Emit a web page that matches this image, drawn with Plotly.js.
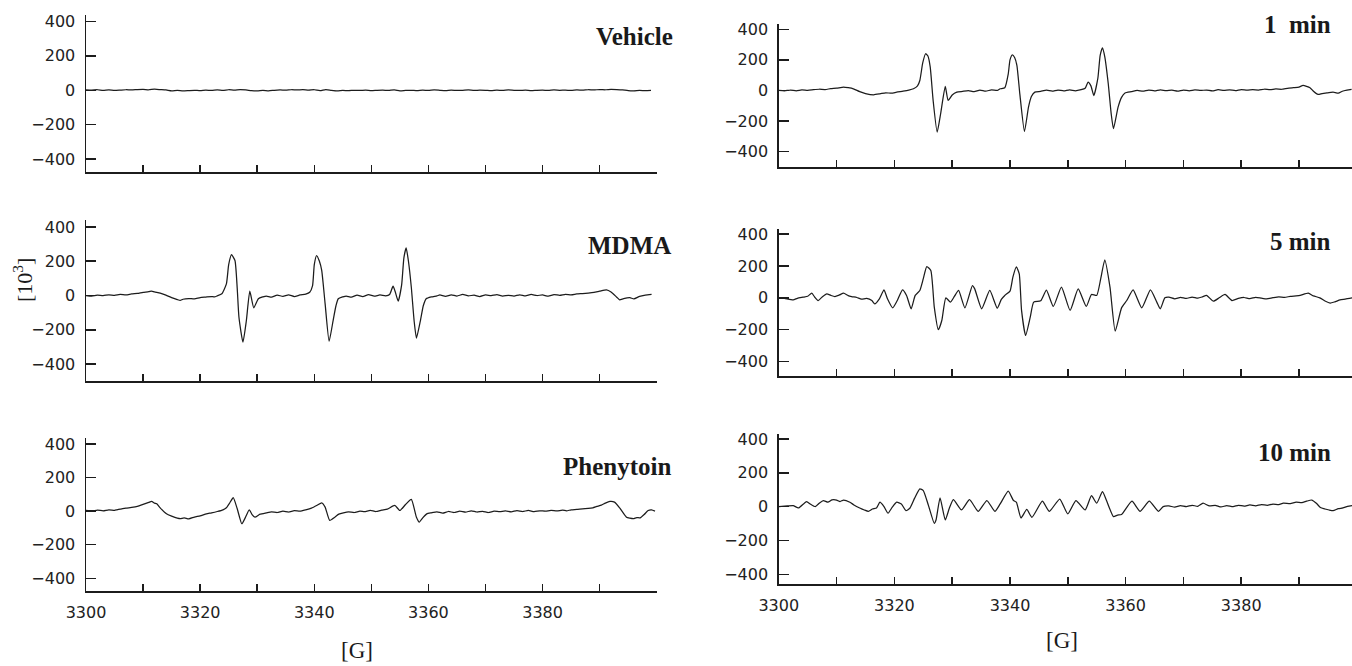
<!DOCTYPE html>
<html>
<head>
<meta charset="utf-8">
<script src="https://cdn.plot.ly/plotly-3.0.1.min.js"></script>
<style>html,body{margin:0;padding:0;background:#fff;}#chart{width:1352px;height:666px;}</style>
</head>
<body>
<div id="chart"></div>
<script>
// ---- Data: [field (G), signal (10^3)] ----
const vehicleX = [3300,3301,3302,3303,3304,3305,3306,3307,3308,3309,3310,3311,3312,3313,3314,3315,3316,3317,3318,3319,3320,3321,3322,3323,3324,3325,3326,3327,3328,3329,3330,3331,3332,3333,3334,3335,3336,3337,3338,3339,3340,3341,3342,3343,3344,3345,3346,3347,3348,3349,3350,3351,3352,3353,3354,3355,3356,3357,3358,3359,3360,3361,3362,3363,3364,3365,3366,3367,3368,3369,3370,3371,3372,3373,3374,3375,3376,3377,3378,3379,3380,3381,3382,3383,3384,3385,3386,3387,3388,3389,3390,3391,3392,3393,3394,3395,3396,3397,3398,3399];
const vehicleY = [2,1,3,0,2,-1,1,3,2,4,5,3,6,4,2,-3,-1,-4,-2,0,-2,1,-1,2,0,3,1,4,2,-2,-4,-1,-3,0,2,1,3,2,4,1,3,-2,4,0,-3,-1,-2,0,-1,1,-2,0,1,-1,2,-3,-1,0,-2,1,-1,2,0,-2,1,-1,0,2,-1,1,0,-2,1,-1,2,0,-1,1,-2,0,1,-1,2,0,1,-1,2,1,3,2,4,3,5,4,2,-2,-3,-1,-2,-1];

const mdmaPts = [[3300,0],[3301,-3],[3302,2],[3303,-1],[3304,4],[3305,1],[3306,6],[3307,3],[3308,9],[3309,12],[3310,18],[3311,22],[3311.5,26],[3312,21],[3313,14],[3314,2],[3315,-12],[3316,-24],[3316.5,-29],[3317,-22],[3318,-18],[3319,-20],[3320,-12],[3321,-9],[3322,-6],[3322.5,-8],[3323,-2],[3323.8,10],[3324.6,68],[3325.0,180],[3325.5,238],[3326.1,204],[3326.5,40],[3326.8,-127],[3327.5,-272],[3328.1,-146],[3328.7,25],[3329.4,-72],[3330.2,-19],[3331,-8],[3331.6,-3],[3332.5,-10],[3333.5,2],[3334.5,-5],[3335.5,4],[3336.5,-6],[3337.5,3],[3338.5,8],[3339.2,19],[3339.7,58],[3340.0,180],[3340.4,233],[3340.9,200],[3341.3,146],[3341.9,-49],[3342.6,-267],[3343.3,-146],[3343.8,-60],[3344.2,-19],[3345,-8],[3345.6,-3],[3346.5,-10],[3347.5,2],[3348.5,-6],[3349.5,5],[3350.5,-4],[3351.5,3],[3352.5,-2],[3353.2,6],[3353.8,54],[3354.2,20],[3354.7,-33],[3355.3,60],[3355.7,220],[3356.1,278],[3356.5,200],[3357.0,48],[3357.5,-150],[3357.9,-249],[3358.6,-146],[3359.1,-60],[3359.6,-19],[3360.5,-8],[3361.5,-2],[3362,3],[3363,-5],[3364,4],[3365,-3],[3366,6],[3367,-2],[3368,2],[3369,-6],[3370,3],[3371,-1],[3372,5],[3373,-4],[3374,1],[3375,-3],[3376,4],[3377,-2],[3378,6],[3379,0],[3380,3],[3381,-4],[3382,5],[3383,1],[3384,7],[3385,4],[3386,9],[3387,11],[3388,14],[3389,18],[3390,25],[3391.2,33],[3392,20],[3393,-10],[3393.5,-25],[3394.2,-18],[3395.3,-13],[3396,-20],[3397,-5],[3398,2],[3399.1,6]];

const phenytoinPts = [[3300,4],[3301,0],[3302,6],[3303,2],[3304,8],[3305,5],[3305.4,8],[3306,12],[3307,18],[3308,22],[3309,28],[3309.5,34],[3310,40],[3311,52],[3311.5,58],[3312,48],[3312.4,44],[3313,20],[3314.1,-16],[3315,-30],[3316,-42],[3316.5,-45],[3317.2,-40],[3318,-46],[3319,-35],[3320,-28],[3321.1,-16],[3322,-10],[3323,-2],[3324,8],[3324.6,20],[3325.2,50],[3325.8,80],[3326.5,14],[3327.3,-75],[3327.9,-40],[3328.6,8],[3329.1,-20],[3329.6,-36],[3330.5,-18],[3331.6,-10],[3332.5,-4],[3333.5,-8],[3334.5,0],[3335.5,-5],[3336.5,3],[3337.5,0],[3338.5,8],[3339.5,18],[3340.5,35],[3341.3,50],[3341.9,24],[3342.7,-55],[3343.6,-36],[3344.3,-18],[3345.1,-10],[3346,-4],[3347,-8],[3348,0],[3348.8,-3],[3349.8,4],[3350.8,-2],[3351.8,6],[3352.8,12],[3354.1,34],[3355,4],[3356,40],[3357,70],[3357.9,-36],[3358.4,-65],[3359,-40],[3359.7,-16],[3360.5,-10],[3361.5,-4],[3362.5,-12],[3363.5,-2],[3364.5,-8],[3365.5,0],[3366.5,-6],[3367.5,2],[3368.5,-5],[3369.5,-1],[3370.5,-8],[3371.5,0],[3372.5,-3],[3373.5,2],[3374.5,-4],[3375.5,3],[3376.5,-2],[3377.5,4],[3378.5,-3],[3379.5,2],[3380.5,0],[3381.5,5],[3382.5,1],[3383.5,6],[3384.2,2],[3385,8],[3386,10],[3387,14],[3388,16],[3388.8,20],[3389.5,28],[3390.3,36],[3391,48],[3391.8,58],[3392.6,54],[3393.5,20],[3394.7,-36],[3395.3,-42],[3395.9,-45],[3396.5,-38],[3397.1,-40],[3397.8,-20],[3398.5,4],[3399.1,8],[3399.7,0]];

const min1Pts = [[3300,0],[3301,-3],[3302,3],[3303,-2],[3304,4],[3305,1],[3306,5],[3307,8],[3308,6],[3309,12],[3310,15],[3311.2,22],[3312,18],[3312.9,11],[3314,-8],[3315,-20],[3316.4,-28],[3317.5,-22],[3318.5,-15],[3319.5,-18],[3320.4,-11],[3321.5,-5],[3322.5,2],[3323.3,11],[3324.0,30],[3324.4,65],[3324.9,180],[3325.4,240],[3325.8,225],[3326.2,152],[3326.7,-65],[3327.4,-272],[3328.0,-152],[3328.8,26],[3329.3,-65],[3330.0,-30],[3330.8,-11],[3331.8,-6],[3332.8,-1],[3333.8,-8],[3334.8,2],[3335.8,-5],[3336.8,4],[3337.8,0],[3338.3,11],[3339.1,18],[3339.7,109],[3340.0,200],[3340.4,233],[3340.8,215],[3341.2,163],[3341.7,-22],[3342.5,-268],[3343.2,-109],[3343.7,-40],[3344.3,-11],[3345.3,-6],[3346.3,2],[3347.3,-4],[3348.3,3],[3349.3,-3],[3350.3,4],[3351.3,-2],[3352.3,5],[3353.0,14],[3353.5,54],[3354.0,30],[3354.5,-33],[3355.2,80],[3355.6,230],[3356.0,279],[3356.4,220],[3357.0,44],[3357.5,-150],[3357.9,-250],[3358.7,-109],[3359.3,-45],[3359.9,-17],[3361,-8],[3362,0],[3363,-5],[3364,3],[3365,-3],[3366,4],[3367,-1],[3368,2],[3369,-4],[3370,3],[3371,-2],[3372,4],[3373,0],[3374,3],[3375,-3],[3376,5],[3377,1],[3378,4],[3379,-1],[3380,6],[3381,2],[3382,5],[3383,3],[3384,8],[3385,5],[3386,10],[3387,8],[3388,14],[3389,18],[3390,22],[3390.7,33],[3391.9,18],[3392.5,-5],[3393.3,-26],[3394,-20],[3395,-15],[3395.9,-11],[3396.8,-18],[3397.5,-5],[3398.3,2],[3399.1,7]];

const min5Pts = [[3300,0],[3301,-4],[3302.5,-13],[3303.2,-3],[3304.2,4],[3305,10],[3305.7,29],[3306.2,5],[3306.8,-17],[3307.5,5],[3308.3,25],[3309,15],[3309.7,8],[3310.5,18],[3311.2,29],[3312,14],[3312.6,8],[3313.5,2],[3314.3,-8],[3315.2,-4],[3316.1,-17],[3316.6,-38],[3317.4,-6],[3318.2,50],[3318.8,-6],[3319.7,-63],[3320.5,-17],[3321.4,50],[3322.1,15],[3322.9,-69],[3323.6,15],[3324.4,46],[3325.0,120],[3325.6,196],[3326.3,171],[3326.9,-58],[3327.6,-200],[3328.2,-142],[3328.9,0],[3329.7,-27],[3330.4,10],[3331.1,46],[3332.2,-63],[3333.5,77],[3333.9,56],[3335.1,-69],[3336.5,46],[3337.8,-65],[3338.5,-10],[3339.1,15],[3340.0,42],[3340.5,130],[3341.1,194],[3341.6,150],[3342.0,-79],[3342.7,-236],[3343.5,-121],[3344.1,-27],[3345.3,-19],[3346.3,48],[3347.5,-54],[3348.9,67],[3350.4,-79],[3351.8,56],[3353.2,-54],[3354.1,21],[3355.0,15],[3355.7,120],[3356.4,238],[3357.3,67],[3358.2,-209],[3359.3,-63],[3360.2,-17],[3361.3,50],[3362.8,-63],[3364.3,50],[3365.4,-27],[3366.0,-69],[3366.8,0],[3367.5,4],[3368.5,-6],[3369.5,3],[3370.5,-4],[3371.5,5],[3372.5,-2],[3373.3,6],[3374.0,15],[3375.2,-21],[3376.2,0],[3377.2,21],[3378.4,-17],[3379.5,-4],[3380.5,2],[3381.5,-5],[3382.5,3],[3383.5,-2],[3384.4,-6],[3385.5,1],[3386.5,6],[3387.5,3],[3388.5,9],[3389.5,12],[3390.2,15],[3391.6,29],[3392.5,12],[3393.6,0],[3394.5,-20],[3395.4,-33],[3396.2,-25],[3397.1,-13],[3398,-8],[3399.2,0]];

const min10Pts = [[3300,0],[3301.5,4],[3302.5,6],[3303.4,-8],[3304.8,30],[3305.5,14],[3306.3,0],[3307,20],[3307.7,36],[3308.5,26],[3309.2,40],[3310,39],[3310.6,30],[3311.2,39],[3312.3,26],[3313,10],[3314,-8],[3314.8,-20],[3315.5,-28],[3316.2,-14],[3316.9,-8],[3317.5,26],[3318.2,0],[3318.9,-39],[3319.6,-5],[3320.4,26],[3321.2,16],[3322.0,-24],[3322.7,-8],[3323.5,50],[3324.4,105],[3325.0,95],[3325.9,6],[3326.9,-99],[3327.2,-79],[3327.9,51],[3328.8,-79],[3329.5,-10],[3330.2,41],[3331.6,-20],[3333.0,41],[3334.5,-28],[3336.0,36],[3337.4,-28],[3338.3,16],[3339.7,91],[3340.6,36],[3341.1,26],[3341.9,-67],[3342.9,-17],[3343.8,-63],[3345.6,32],[3346.8,-28],[3348.6,45],[3350.0,-43],[3351.4,36],[3353.0,-20],[3354.1,65],[3355.0,20],[3356.0,89],[3356.7,36],[3357.9,-59],[3358.6,-50],[3359.3,-47],[3361.1,32],[3362.5,-28],[3364.1,32],[3365.7,-28],[3366.5,0],[3367.5,4],[3368.5,-3],[3369.5,6],[3370.5,0],[3371.5,8],[3372.5,2],[3373.4,20],[3374.5,4],[3375.5,8],[3376.5,-2],[3377.5,6],[3378.6,0],[3379.5,8],[3380.5,3],[3381.5,10],[3382.5,5],[3383.5,12],[3384.5,8],[3385.5,15],[3386.5,12],[3387.3,20],[3388.5,18],[3389.5,26],[3390.5,24],[3391.3,32],[3392.2,39],[3393,20],[3393.7,-5],[3394.5,-14],[3395.2,-20],[3395.9,-24],[3396.8,-12],[3397.6,-8],[3398.4,2],[3399.2,6]];

const panelLabels = ['Vehicle', 'MDMA', 'Phenytoin', '1\u00a0\u00a0min', '5 min', '10 min'];
const xTickVals = [3300,3320,3340,3360,3380];
const xTickText = ['3300','3320','3340','3360','3380'];
const xMinorTickVals = [3310,3330,3350,3370,3390,3400];
const yTickVals = [-400,-200,0,200,400];
const yTickText = ['\u2212400','\u2212200','0','200','400'];
const yAxisLabel = '[10<sup>3</sup>]';
const xAxisLabel = '[G]';

// ---- Build ----
const series = [
  {x: vehicleX, y: vehicleY},
  {x: mdmaPts.map(p => p[0]), y: mdmaPts.map(p => p[1])},
  {x: phenytoinPts.map(p => p[0]), y: phenytoinPts.map(p => p[1])},
  {x: min1Pts.map(p => p[0]), y: min1Pts.map(p => p[1])},
  {x: min5Pts.map(p => p[0]), y: min5Pts.map(p => p[1])},
  {x: min10Pts.map(p => p[0]), y: min10Pts.map(p => p[1])}
];

const W = 1352, H = 666;
// pixel geometry of each panel: [xLeft, xRight, yTop, yBottom, xMax, yMin, yMax]
const geom = [
  [86, 657, 14.6, 172.3, 3400.05, -477, 440],
  [86, 657, 220.1, 381, 3400.05, -499, 440],
  [86, 657, 438, 590.7, 3400.05, -474, 436],
  [778.8, 1352, 23.9, 167.3, 3399.17, -502, 435],
  [778.8, 1352, 229.2, 375.7, 3399.17, -488, 430],
  [778.8, 1352, 433.9, 583.9, 3399.17, -457, 430]
];

const traces = [];
const layout = {
  width: W, height: H,
  margin: {l: 0, r: 0, t: 0, b: 0, pad: 0},
  paper_bgcolor: '#fff', plot_bgcolor: 'rgba(0,0,0,0)',
  showlegend: false,
  font: {family: 'DejaVu Sans, sans-serif', color: '#222'},
  annotations: []
};

series.forEach((s, i) => {
  const n = i + 1;
  const g = geom[i];
  traces.push({
    x: s.x, y: s.y, type: 'scatter', mode: 'lines',
    xaxis: 'x' + (n === 1 ? '' : n), yaxis: 'y' + (n === 1 ? '' : n),
    line: {color: '#1c1c1c', width: 1.25, shape: 'spline', smoothing: 0.5},
    hoverinfo: 'skip'
  });
  const bottom = (i === 2 || i === 5);
  layout['xaxis' + (n === 1 ? '' : n)] = {
    domain: [g[0] / W, g[1] / W], range: [3300, g[4]],
    anchor: 'y' + (n === 1 ? '' : n),
    showline: true, linecolor: '#1c1c1c', linewidth: 2,
    showgrid: false, zeroline: false,
    ticks: 'inside', ticklen: 7, tickwidth: 1.5, tickcolor: '#1c1c1c',
    tickmode: 'array', tickvals: xTickVals, ticktext: xTickText,
    minor: {tickmode: 'array', tickvals: xMinorTickVals, ticks: 'inside', ticklen: 7, tickwidth: 1.5, tickcolor: '#1c1c1c', showgrid: false},
    showticklabels: bottom, ticklabelstandoff: 6,
    tickfont: {family: 'DejaVu Sans, sans-serif', size: 16, color: '#222'},
    fixedrange: true
  };
  layout['yaxis' + (n === 1 ? '' : n)] = {
    domain: [(H - g[3]) / H, (H - g[2]) / H], range: [g[5], g[6]],
    anchor: 'x' + (n === 1 ? '' : n),
    showline: true, linecolor: '#1c1c1c', linewidth: 1.5,
    showgrid: false, zeroline: false,
    ticks: 'inside', ticklen: 10, tickwidth: 1.5, tickcolor: '#1c1c1c',
    tickmode: 'array', tickvals: yTickVals, ticktext: yTickText,
    ticklabelstandoff: 6,
    tickfont: {family: 'DejaVu Sans, sans-serif', size: 16, color: '#222'},
    fixedrange: true
  };
});

// panel labels (right aligned)
const labelPos = [[675, 36.7], [673, 245], [673, 466.7], [1333, 25], [1333, 241.7], [1333, 453]];
panelLabels.forEach((t, i) => {
  layout.annotations.push({
    text: '<b>' + t + '</b>', xref: 'paper', yref: 'paper',
    x: labelPos[i][0] / W, y: (H - labelPos[i][1]) / H,
    xanchor: 'right', yanchor: 'middle', showarrow: false,
    font: {family: 'Liberation Serif, Times New Roman, serif', size: 25, color: '#1a1a1a'}
  });
});
// axis titles
layout.annotations.push({
  text: yAxisLabel, xref: 'paper', yref: 'paper', x: 23 / W, y: (H - 280) / H,
  xanchor: 'center', yanchor: 'middle', textangle: -90, showarrow: false,
  font: {family: 'Liberation Serif, Times New Roman, serif', size: 22, color: '#1a1a1a'}
});
[[357, 650], [1062, 640]].forEach(p => {
  layout.annotations.push({
    text: xAxisLabel, xref: 'paper', yref: 'paper', x: p[0] / W, y: (H - p[1]) / H,
    xanchor: 'center', yanchor: 'middle', showarrow: false,
    font: {family: 'Liberation Serif, Times New Roman, serif', size: 23, color: '#1a1a1a'}
  });
});

Plotly.newPlot('chart', traces, layout, {displayModeBar: false, staticPlot: true});
</script>
</body>
</html>
